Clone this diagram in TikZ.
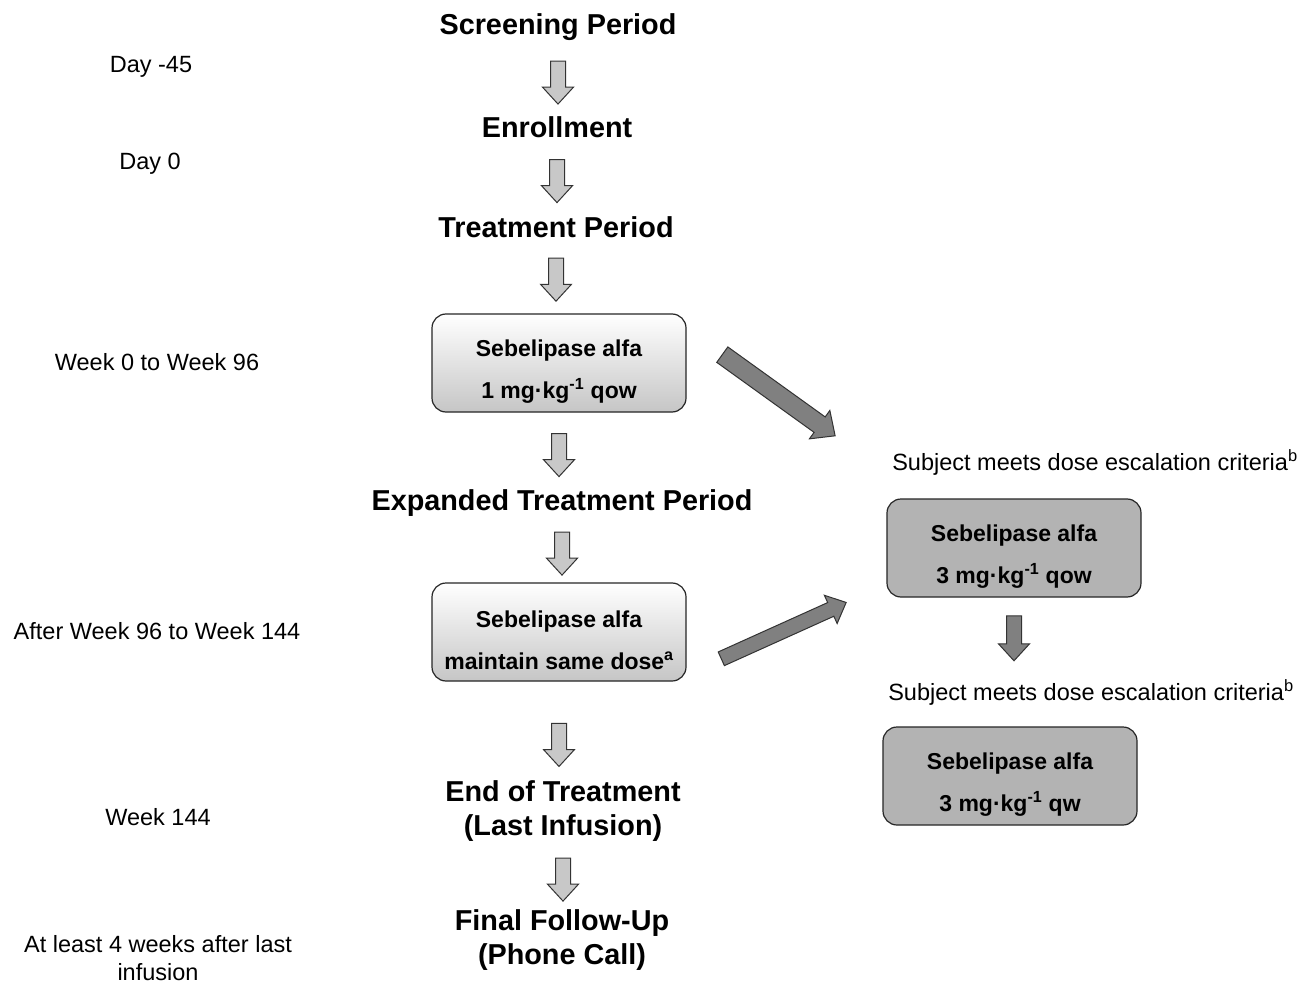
\documentclass[tikz,border=0pt]{standalone}
\usepackage{fontspec}
\setmainfont{Liberation Sans}
\usetikzlibrary{shapes.arrows, calc, positioning}

\definecolor{boxgray}{RGB}{179,179,179}
\definecolor{arrowlight}{RGB}{200,200,200}
\definecolor{arrowdark}{RGB}{128,128,128}

\tikzset{
  phase/.style={inner sep=0pt, align=center, font=\fontsize{28.8}{34}\selectfont\bfseries},
  timing/.style={inner sep=0pt, align=center, font=\fontsize{23.5}{28}\selectfont},
  dosebox/.style={draw=black!85, line width=1.2pt, rounded corners=14pt, minimum width=254pt, minimum height=98pt, align=center, inner sep=2pt, font=\fontsize{23}{42}\selectfont\bfseries},
  samedose/.style={dosebox, top color=white, bottom color=gray!45},
  highdose/.style={dosebox, fill=boxgray},
  fatarrow/.style={single arrow, draw=black!80, line width=1pt, inner sep=7pt, single arrow head extend=8pt, single arrow tip angle=85},
  lightarrow/.style={fatarrow, fill=arrowlight},
  darkarrow/.style={fatarrow, fill=arrowdark},
}

% tall strut that pushes the box text down a little
\newcommand{\boxstrut}{\rule{0pt}{33pt}}

% block arrow along the line from #2 to #3, of length #4
\newcommand{\fatarrow}[4][]{%
  \path (#2) -- (#3) node[midway, sloped, allow upside down, minimum height=#4, #1] {};}

\begin{document}
\begin{tikzpicture}[x=1pt, y=-1pt]
  \fill[white] (0,0) rectangle (1304,984);
  \useasboundingbox (0,0) rectangle (1304,984);

  % main column
  \node[phase] (screen) at (558,27) {Screening Period};
  \node[phase] (enrol) at (557,127) {Enrollment};
  \node[phase] (treat) at (556,227) {Treatment Period};
  \node[samedose] (box1) at (559,363) {\boxstrut Sebelipase alfa\\1 mg·kg\textsuperscript{-1} qow};
  \node[phase] (expand) at (562,503) {Expanded Treatment Period};
  \node[samedose] (box2) at (559,632) {\boxstrut Sebelipase alfa\\maintain same dose\textsuperscript{a}};
  \node[phase] (eot) at (563,811) {End of Treatment\\(Last Infusion)};
  \node[phase] (ffu) at (562,940) {Final Follow-Up\\(Phone Call)};

  % timing labels
  \node[timing] (dneg45) at (151,67) {Day -45};
  \node[timing] (dzero) at (150,164) {Day 0};
  \node[timing] (wk96) at (157,362) {Week 0 to Week 96};
  \node[timing] (wk144) at (157,631) {After Week 96 to Week 144};
  \node[timing] (wkend) at (158,817) {Week 144};
  \node[timing] (fuwk) at (158,958) {At least 4 weeks after last\\infusion};

  % dose escalation column
  \node[timing] (crit1) at (1095,462) {Subject meets dose escalation criteria\textsuperscript{b}};
  \node[highdose] (box3) at (1014,548) {\boxstrut Sebelipase alfa\\3 mg·kg\textsuperscript{-1} qow};
  \node[timing] (crit2) at (1091,692) {Subject meets dose escalation criteria\textsuperscript{b}};
  \node[highdose] (box4) at (1010,776) {\boxstrut Sebelipase alfa\\3 mg·kg\textsuperscript{-1} qw};

  % arrows
  \fatarrow[lightarrow]{screen.south}{screen.south |- enrol.north}{43pt}
  \fatarrow[lightarrow]{enrol.south}{enrol.south |- treat.north}{43pt}
  \fatarrow[lightarrow]{treat.south}{treat.south |- box1.north}{43pt}
  \fatarrow[lightarrow]{box1.south}{box1.south |- expand.north}{43pt}
  \fatarrow[lightarrow]{expand.south}{expand.south |- box2.north}{43pt}
  \fatarrow[lightarrow, pos=0.6]{box2.south}{box2.south |- eot.north}{43pt}
  \fatarrow[lightarrow]{eot.south}{eot.south |- ffu.north}{43pt}
  \fatarrow[darkarrow, pos=0.45]{box3.south}{box3.south |- crit2.north}{45pt}
  \fatarrow[darkarrow, inner sep=9pt]{$(box1.east)+(32,-11)$}{$(box3.north west)+(-56,-66)$}{139pt}
  \fatarrow[darkarrow]{$(box2.east)+(32,28)$}{$(box3.south west)+(-45,7)$}{137pt}
\end{tikzpicture}
\end{document}
